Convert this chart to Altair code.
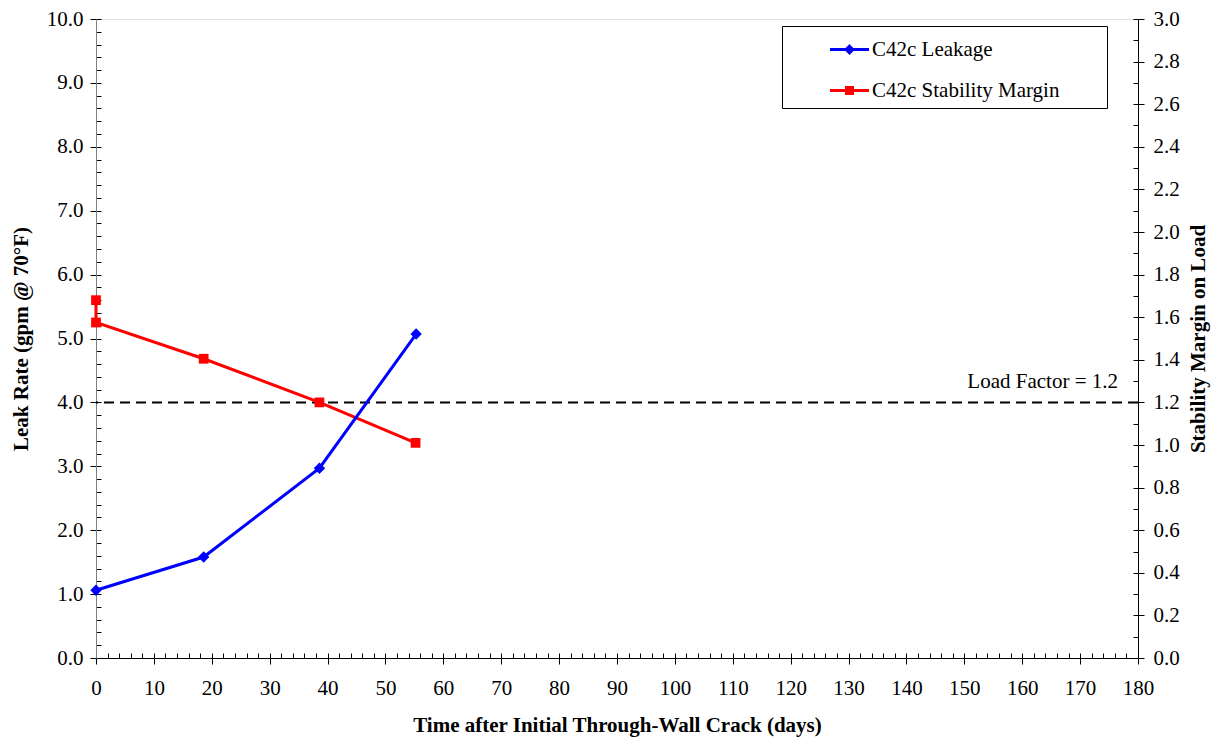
import altair as alt
import pandas as pd

# ---- data ----
time_leak = [0, 18.6, 38.6, 55.3]
leak_rate = [1.06, 1.58, 2.97, 5.07]
time_margin = [0, 0, 18.6, 38.6, 55.2]
stability_margin = [1.68, 1.575, 1.405, 1.20, 1.01]
series_names = ["C42c Leakage", "C42c Stability Margin"]
series_colors = ["#0000FF", "#FF0000"]
load_factor = 1.2
load_factor_label = "Load Factor = 1.2"
x_major = list(range(0, 181, 10))
x_minor = list(range(0, 181, 2))
left_major = [float(v) for v in range(0, 11)]
left_minor = [round(i * 0.2, 1) for i in range(51)]
right_major = [round(i * 0.2, 1) for i in range(16)]
right_minor = [round(i * 0.1, 1) for i in range(31)]

FONT = "Liberation Serif"
FS = 21

df_leak = pd.DataFrame({"t": time_leak, "v": leak_rate, "i": range(len(time_leak))})
df_margin = pd.DataFrame({"t": time_margin, "v": stability_margin, "i": range(len(time_margin))})
df_lf = pd.DataFrame({"v": [load_factor], "t": [180], "label": [load_factor_label]})
df_legend = pd.DataFrame({"series": series_names, "t": [-50, -50], "v": [1, 1]})

xs = alt.Scale(domain=[0, 180], nice=False, zero=False)
yl = alt.Scale(domain=[0, 10], nice=False)
yr = alt.Scale(domain=[0, 3], nice=False)

x_axis_main = alt.Axis(orient="bottom", values=x_major, format="d", tickSize=6,
                       tickColor="black", domainColor="black", labelPadding=13,
                       labelFont=FONT, labelFontSize=FS, labelColor="black",
                       labelFlush=False, labelOverlap=False,
                       title="Time after Initial Through-Wall Crack (days)",
                       titleFont=FONT, titleFontSize=FS, titleFontWeight="bold",
                       titleColor="black", titlePadding=16, grid=False)
x_axis_inner = alt.Axis(orient="bottom", values=x_minor, offset=-5, tickSize=5,
                        tickColor="black", labels=False, domain=False, title=None, grid=False)
left_axis_main = alt.Axis(orient="left", values=left_major, format=".1f", tickSize=6,
                          tickColor="black", domainColor="#808080", labelPadding=7,
                          labelFont=FONT, labelFontSize=FS, labelColor="black",
                          labelFlush=False, labelOverlap=False,
                          title="Leak Rate (gpm @ 70°F)", titleFont=FONT, titleFontSize=FS,
                          titleFontWeight="bold", titleColor="black", titlePadding=15,
                          grid=False)
left_axis_inner = alt.Axis(orient="left", values=left_minor, offset=-5, tickSize=5,
                           tickColor="black", labels=False, domain=False, title=None,
                           grid=False)
right_axis_main = alt.Axis(orient="right", values=right_major, format=".1f", tickSize=6,
                           tickColor="black", domainColor="black", labelPadding=9,
                           labelFont=FONT, labelFontSize=FS, labelColor="black",
                           labelFlush=False, labelOverlap=False,
                           title="Stability Margin on Load", titleAngle=270,
                           titleBaseline="top", titleFont=FONT, titleFontSize=FS,
                           titleFontWeight="bold", titleColor="black", titlePadding=8,
                           grid=False)
right_axis_inner = alt.Axis(orient="right", values=right_minor, offset=-5, tickSize=5,
                            tickColor="black", labels=False, domain=False, title=None,
                            grid=False)

leak_line = alt.Chart(df_leak).mark_line(color=series_colors[0], strokeWidth=3).encode(
    x=alt.X("t:Q", scale=xs, axis=x_axis_main),
    y=alt.Y("v:Q", scale=yl, axis=left_axis_main),
    order=alt.Order("i:Q"),
)
leak_pts = alt.Chart(df_leak).mark_point(shape="diamond", filled=True, size=130, opacity=1,
                                         color=series_colors[0]).encode(
    x=alt.X("t:Q", scale=xs, axis=None),
    y=alt.Y("v:Q", scale=yl, axis=None),
)
left_inner = alt.Chart(df_leak).mark_point(opacity=0).encode(
    x=alt.X("t:Q", scale=xs, axis=x_axis_inner),
    y=alt.Y("v:Q", scale=yl, axis=left_axis_inner),
)
margin_line = alt.Chart(df_margin).mark_line(color=series_colors[1], strokeWidth=3).encode(
    x=alt.X("t:Q", scale=xs, axis=None),
    y=alt.Y("v:Q", scale=yr, axis=right_axis_main),
    order=alt.Order("i:Q"),
)
margin_pts = alt.Chart(df_margin).mark_point(shape="square", filled=True, size=95, opacity=1,
                                             color=series_colors[1]).encode(
    x=alt.X("t:Q", scale=xs, axis=None),
    y=alt.Y("v:Q", scale=yr, axis=None),
)
right_inner = alt.Chart(df_margin).mark_point(opacity=0).encode(
    x=alt.X("t:Q", scale=xs, axis=None),
    y=alt.Y("v:Q", scale=yr, axis=right_axis_inner),
)
lf_rule = alt.Chart(df_lf).mark_rule(color="black", strokeWidth=2, strokeDash=[10, 6]).encode(
    y=alt.Y("v:Q", scale=yr, axis=None),
)
lf_text = alt.Chart(df_lf).mark_text(align="right", baseline="alphabetic", dx=-20, dy=-14,
                                     font=FONT, fontSize=FS, color="black").encode(
    x=alt.X("t:Q", scale=xs, axis=None),
    y=alt.Y("v:Q", scale=yr, axis=None),
    text="label:N",
)

legend_paths = [
    "M-1.3,0H1.3M0,-0.22L0.22,0L0,0.22L-0.22,0Z",
    "M-1.3,0H1.3M-0.2,-0.2H0.2V0.2H-0.2Z",
]
leg = alt.Legend(title="xxxxx", titleOrient="right", titleColor="white", titleFontSize=14,
                 titlePadding=2, orient="none", legendX=686, legendY=7,
                 direction="vertical", symbolSize=900, symbolStrokeWidth=3, symbolOffset=44,
                 labelOffset=6, labelFont=FONT, labelFontSize=FS, labelColor="black",
                 labelLimit=600, rowPadding=14, padding=7, strokeColor="black",
                 fillColor="white", symbolOpacity=1, cornerRadius=0)
legend_layer = alt.Chart(df_legend).mark_point(filled=True, opacity=1, clip=True).encode(
    x=alt.X("t:Q", scale=xs, axis=None),
    y=alt.Y("v:Q", scale=yl, axis=None),
    color=alt.Color("series:N", scale=alt.Scale(domain=series_names, range=series_colors),
                    legend=leg),
    stroke=alt.Stroke("series:N", scale=alt.Scale(domain=series_names, range=series_colors),
                      legend=leg),
    shape=alt.Shape("series:N", scale=alt.Scale(domain=series_names, range=legend_paths),
                    legend=leg),
)

chart = alt.layer(
    left_inner, right_inner, lf_rule, lf_text, margin_line, margin_pts, leak_line, leak_pts,
    legend_layer,
).resolve_scale(
    y="independent"
).resolve_axis(
    x="independent", y="independent"
).properties(
    width=1042, height=639,
    autosize=alt.AutoSizeParams(type="none"),
    padding={"left": 88, "top": 11, "right": 79, "bottom": 79},
).configure_view(
    stroke="#808080", strokeWidth=1
).configure(
    background="white"
)

chart.save("out.html", embed_options={"renderer": "svg", "actions": False})
